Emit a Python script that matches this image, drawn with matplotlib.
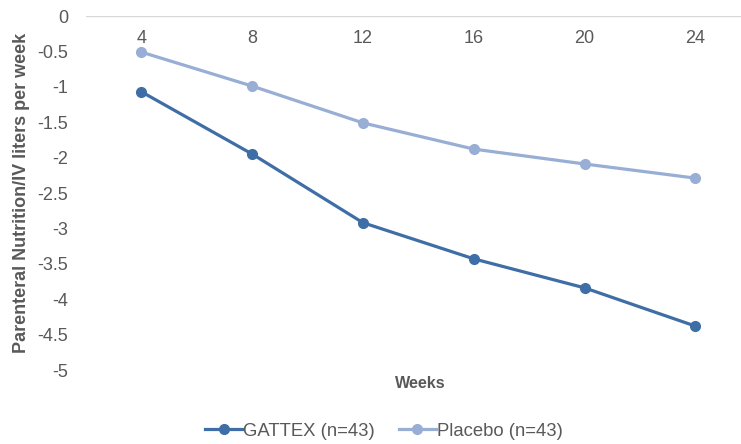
import matplotlib.pyplot as plt

plt.rcParams['font.family'] = ['Liberation Sans', 'DejaVu Sans']

weeks = ["4", "8", "12", "16", "20", "24"]
gattex = [-1.07, -1.95, -2.92, -3.43, -3.84, -4.38]
placebo = [-0.51, -0.99, -1.51, -1.88, -2.09, -2.29]
y_ticks = [0, -0.5, -1, -1.5, -2, -2.5, -3, -3.5, -4, -4.5, -5]

GRAY = "#595959"

fig = plt.figure(figsize=(7.41, 4.44), dpi=100)
ax = fig.add_axes([86 / 741, 1 - 370 / 444, 655 / 741, 354 / 444])

x = range(len(weeks))
ax.plot(x, gattex, color="#3f6ea6", lw=2.3, marker="o", ms=7, label="GATTEX (n=43)")
ax.plot(x, placebo, color="#98aed5", lw=2.3, marker="o", ms=7, label="Placebo (n=43)")

ax.set_xlim(-0.5, -0.5 + 655 / 110.8)
ax.set_ylim(-5, 0)

# category axis sits along y = 0, labels just under it
ax.axhline(0, color="#d9d9d9", lw=1, zorder=0)
ax.set_xticks([])
for i, w in enumerate(weeks):
    ax.text(i, -0.32, w, ha="center", va="center", fontsize=13, color=GRAY)

ax.set_yticks(y_ticks)
ax.set_yticklabels([f"{v:g}" for v in y_ticks])
ax.tick_params(axis="y", length=0, pad=13, labelsize=13, labelcolor=GRAY)
for s in ax.spines.values():
    s.set_visible(False)

fig.text(22 / 741, 1 - 193 / 444, "Parenteral Nutrition/IV liters per week",
         rotation=90, ha="center", va="center", fontsize=13,
         fontweight="bold", color=GRAY)
fig.text(420 / 741, 1 - 383 / 444, "Weeks", ha="center", va="center",
         fontsize=11.6, fontweight="bold", color=GRAY)

leg = fig.legend(loc="center", bbox_to_anchor=(384 / 741, 1 - 431 / 444), ncol=2,
                 frameon=False, fontsize=13.3, handlelength=2.0, handletextpad=0.05,
                 columnspacing=1.3)
for t in leg.get_texts():
    t.set_color(GRAY)

fig.savefig("out.png", dpi=100)
